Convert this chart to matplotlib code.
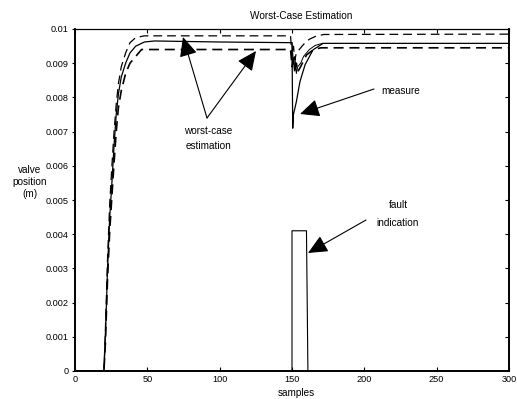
import matplotlib
matplotlib.use("Agg")
import matplotlib.pyplot as plt

plt.rcParams['font.family'] = ['Liberation Sans', 'DejaVu Sans']

# measure (solid)
meas_x = [0, 20, 21, 22.5, 24, 25.5, 27, 28.5, 30, 32, 35, 38, 42, 48, 55, 100, 150,
          150.5, 151, 153, 155.5, 159, 164.5, 171.5, 180, 300]
meas_y = [0, 0, 0.001, 0.003, 0.0045, 0.0055, 0.0066, 0.0075, 0.0081, 0.0086, 0.0090, 0.0093,
          0.0095, 0.00962, 0.00965, 0.00962, 0.0096,
          0.0071, 0.0075, 0.00787, 0.00846, 0.00895, 0.00939, 0.00958, 0.00958, 0.00958]

# estimate (thin solid) in the fault region
est_x = [150, 151, 152, 153, 154, 156, 158, 162, 166, 171]
est_y = [0.0096, 0.0090, 0.0092, 0.0087, 0.0089, 0.0090, 0.0092, 0.0094, 0.00952, 0.00958]

# upper worst-case bound (dashed)
up_x = [0, 20, 21, 22.5, 24, 25.5, 27, 28.5, 30, 32, 35, 38, 42, 48, 149, 150, 151, 152,
        153, 155, 158, 162, 166, 172, 300]
up_y = [0, 0, 0.0012, 0.0033, 0.0049, 0.0060, 0.0070, 0.0078, 0.0084, 0.0089, 0.0093, 0.0096,
        0.00975, 0.0098, 0.0098, 0.0092, 0.0095, 0.0091, 0.0093, 0.0094, 0.00955, 0.0097,
        0.00978, 0.00984, 0.00985]

# lower worst-case bound (dashed)
lo_x = [0, 20, 21, 22.5, 24, 25.5, 27, 28.5, 30, 32, 35, 38, 42, 46, 55, 149, 150, 151, 152,
        153, 154, 156, 160, 165, 170, 300]
lo_y = [0, 0, 0.0008, 0.0027, 0.0041, 0.0051, 0.0061, 0.0070, 0.0077, 0.0082, 0.0087, 0.0090,
        0.0092, 0.0094, 0.0094, 0.0094, 0.0089, 0.0092, 0.0087, 0.0090, 0.00875, 0.0089,
        0.00924, 0.0094, 0.00945, 0.00945]

# fault indication
fault_x = [0, 150, 150, 160, 161, 300]
fault_y = [0, 0, 0.0041, 0.0041, 0, 0]

xticks = [0, 50, 100, 150, 200, 250, 300]
yticks = [0, 0.001, 0.002, 0.003, 0.004, 0.005, 0.006, 0.007, 0.008, 0.009, 0.01]
ytick_labels = ['0', '0.001', '0.002', '0.003', '0.004', '0.005', '0.006', '0.007', '0.008', '0.009', '0.01']

W, H = 517, 399
fig = plt.figure(figsize=(W / 100, H / 100), dpi=100)
ax = fig.add_axes([75 / W, (H - 371) / H, (509 - 75) / W, (371 - 29) / H])

ax.plot(fault_x, fault_y, color='black', lw=0.8)
ax.plot(meas_x, meas_y, color='black', lw=0.9)
ax.plot(est_x, est_y, color='black', lw=0.7)
ax.plot(up_x, up_y, color='black', lw=0.9, dashes=(7, 4))
ax.plot(lo_x, lo_y, color='black', lw=1.2, dashes=(6, 3.5))

ax.set_xlim(0, 300)
ax.set_ylim(0, 0.01)
ax.set_xticks(xticks)
ax.set_xticklabels([str(t) for t in xticks])
ax.set_yticks(yticks)
ax.set_yticklabels(ytick_labels)
fs = 7.2
tfs = 6.6
ax.tick_params(axis='x', direction='in', top=True, length=3, width=0.8, labelsize=tfs, pad=3)
ax.tick_params(axis='y', direction='out', length=2.5, width=0.8, labelsize=tfs, pad=2)
ax2 = ax.twinx()
ax2.set_ylim(0, 0.01)
ax2.set_yticks(yticks)
ax2.tick_params(axis='y', direction='in', length=3, width=0.8, labelright=False)
for a in (ax, ax2):
    for k, s in a.spines.items():
        s.set_linewidth(0.8 if k == 'top' else 1.2)

fig.text(301 / W, 1 - 16 / H, 'Worst-Case Estimation', ha='center', va='center', fontsize=fs)
fig.text(296 / W, 1 - 393 / H, 'samples', ha='center', va='center', fontsize=fs)
fig.text(30 / W, 1 - 182 / H, 'valve\nposition\n(m)', ha='center', va='center', fontsize=fs,
         linespacing=1.3)

def px(x, y):
    # convert pixel position in image to data coordinates
    return ((x - 75) / (509 - 75) * 300, (371 - y) / (371 - 29) * 0.01)

arrow = dict(arrowstyle='-|>,head_length=1.2,head_width=0.55', color='black', lw=0.8,
             shrinkA=0, shrinkB=0)

ax.annotate('', xy=px(183, 37), xytext=px(207, 118), arrowprops=arrow)
ax.annotate('', xy=px(256, 51), xytext=px(207, 118), arrowprops=arrow)
ax.text(*px(208, 131), 'worst-case', ha='center', va='center', fontsize=fs)
ax.text(*px(208, 146), 'estimation', ha='center', va='center', fontsize=fs)

ax.annotate('', xy=px(300, 114), xytext=px(374, 89), arrowprops=arrow)
ax.text(*px(401, 91), 'measure', ha='center', va='center', fontsize=fs)

ax.annotate('', xy=px(308, 253), xytext=px(366, 220), arrowprops=arrow)
ax.text(*px(398, 205), 'fault', ha='center', va='center', fontsize=fs)
ax.text(*px(398, 223), 'indication', ha='center', va='center', fontsize=fs)

fig.savefig('out.png', dpi=100)
